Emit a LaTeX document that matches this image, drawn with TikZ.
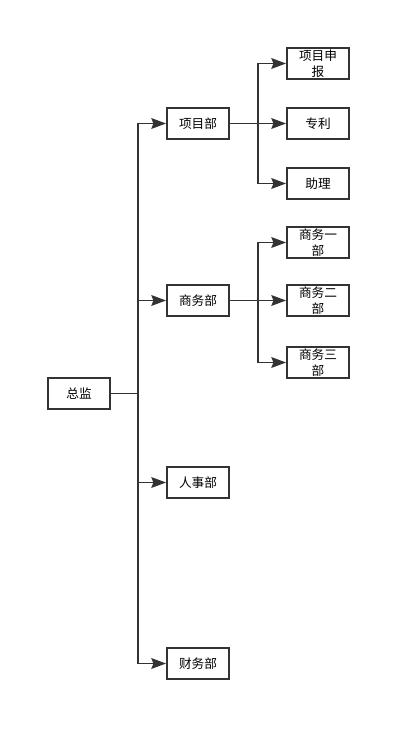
\documentclass[tikz,border=0pt]{standalone}
\usepackage{fontspec}
\setmainfont{Noto Sans CJK SC}
\usetikzlibrary{positioning, arrows.meta}
\definecolor{linegray}{HTML}{333333}
\tikzset{
    ->, % connectors are directed
    >={Stealth[length=11pt, width=8pt, inset=1.5pt]}, % filled arrow heads
    dept/.style={draw=linegray, line width=1.4pt, fill=white, minimum width=46.5pt, minimum height=23.25pt, inner sep=1pt, align=center, font=\fontsize{9.5}{12}\selectfont}, % one box of the chart
    link/.style={draw=linegray, line width=1.4pt}, % connector lines
}
\begin{document}
\begin{tikzpicture}[x=0.75pt, y=-0.75pt]
    \useasboundingbox (0,0) rectangle (411,741);
    % top and first level
    \node[dept] (zj) at (79,393.5) {总监};
    \node[dept] (xmb) at (198,123.5) {项目部};
    \node[dept] (swb) at (198,300.5) {商务部};
    \node[dept] (rsb) at (198,482.5) {人事部};
    \node[dept] (cwb) at (198,663.5) {财务部};
    % second level
    \node[dept] (xmsb) at (318,63.5) {项目申\\报};
    \node[dept] (zl) at (318,123.5) {专利};
    \node[dept] (zhl) at (318,183.5) {助理};
    \node[dept] (sw1) at (318,242.5) {商务一\\部};
    \node[dept] (sw2) at (318,300.5) {商务二\\部};
    \node[dept] (sw3) at (318,362.5) {商务三\\部};
    % branch points
    \coordinate (t1) at (138,393.5);
    \coordinate (t2) at (258,123.5);
    \coordinate (t3) at (258,300.5);
    \draw[link, -] (zj) -- (t1);
    \draw[link] (t1) |- (xmb);
    \draw[link] (t1) |- (swb);
    \draw[link] (t1) |- (rsb);
    \draw[link] (t1) |- (cwb);
    \draw[link, -] (xmb) -- (t2);
    \draw[link] (t2) |- (xmsb);
    \draw[link] (t2) -- (zl);
    \draw[link] (t2) |- (zhl);
    \draw[link, -] (swb) -- (t3);
    \draw[link] (t3) |- (sw1);
    \draw[link] (t3) -- (sw2);
    \draw[link] (t3) |- (sw3);
\end{tikzpicture}
\end{document}
